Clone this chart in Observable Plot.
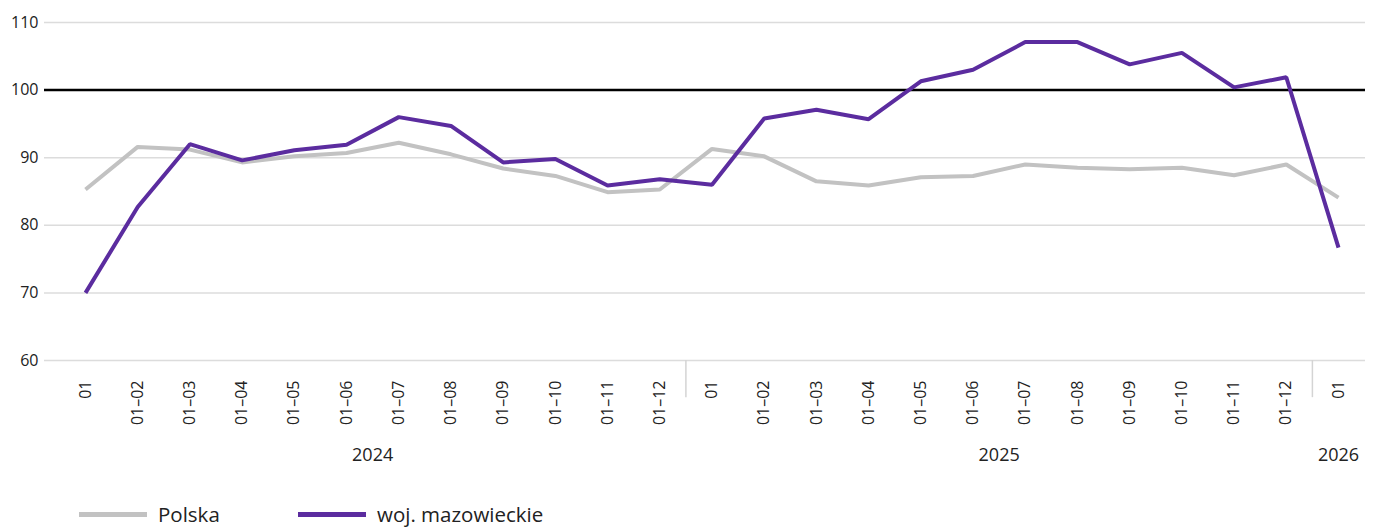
<!DOCTYPE html>
<html>
<head>
<meta charset="utf-8">
<script src="https://cdn.jsdelivr.net/npm/d3@7"></script>
<script src="https://cdn.jsdelivr.net/npm/@observablehq/plot@0.6"></script>
<style>
  body { margin: 0; background: #fff; font-family: "Open Sans", sans-serif; }
  #legend { position: relative; height: 38px; width: 1378px; }
  .item { position: absolute; top: 5px; display: flex; align-items: center; height: 38px; font-size: 20.5px; color: #222; }
  .sw { display: inline-block; width: 68px; height: 5px; margin-right: 11px; }
</style>
</head>
<body>
<div id="chart"></div>
<div id="legend"></div>
<script>
const monthLabels = ["01","01–02","01–03","01–04","01–05","01–06","01–07","01–08","01–09","01–10","01–11","01–12",
                     "01","01–02","01–03","01–04","01–05","01–06","01–07","01–08","01–09","01–10","01–11","01–12",
                     "01"];
const yearOf = [2024,2024,2024,2024,2024,2024,2024,2024,2024,2024,2024,2024,
                2025,2025,2025,2025,2025,2025,2025,2025,2025,2025,2025,2025,
                2026];
const polska = [85.3,91.6,91.2,89.3,90.2,90.7,92.2,90.5,88.4,87.3,84.9,85.3,
                91.3,90.2,86.5,85.9,87.1,87.3,89.0,88.5,88.3,88.5,87.4,89.0,84.1];
const mazowieckie = [70.0,82.7,92.0,89.6,91.1,91.9,96.0,94.7,89.3,89.8,85.9,86.8,
                     86.0,95.8,97.1,95.7,101.3,103.0,107.1,107.1,103.8,105.5,100.4,101.9,76.7];
const seriesNames = ["Polska","woj. mazowieckie"];
const seriesColors = ["#c2c2c2","#5b2c9f"];
const yTicks = [60,70,80,90,100,110];

const idx = d3.range(monthLabels.length);
const years = Array.from(new Set(yearOf));
const yearPos = years.map(y => d3.mean(idx.filter(i => yearOf[i] === y)));
const separators = idx.slice(1).filter(i => yearOf[i] !== yearOf[i-1]).map(i => i - 0.5);

const rows = [
  ...idx.map(i => ({i, v: polska[i], s: seriesNames[0]})),
  ...idx.map(i => ({i, v: mazowieckie[i], s: seriesNames[1]}))
];

const font = "'Open Sans', sans-serif";
const plot = Plot.plot({
  width: 1378,
  height: 490,
  marginTop: 22,
  marginBottom: 130,
  marginLeft: 44,
  marginRight: 13,
  style: {fontFamily: font, color: "#222", background: "#fff"},
  x: {type: "linear", domain: [0, idx.length - 1], insetLeft: 41, insetRight: 27, axis: null},
  y: {domain: [60, 110], axis: null},
  color: {domain: seriesNames, range: seriesColors},
  marks: [
    Plot.ruleY(yTicks.filter(t => t !== 100), {stroke: "#dcdcdc", strokeWidth: 1.5}),
    Plot.ruleY([100], {stroke: "#000", strokeWidth: 2.5}),
    Plot.ruleX(separators, {y1: 60, y2: 54.5, stroke: "#d4d4d4", strokeWidth: 1.5, clip: false}),
    Plot.axisY({ticks: yTicks, tickSize: 0, tickPadding: 6, fontSize: 16, label: null}),
    Plot.text(idx, {x: d => d, text: i => monthLabels[i], frameAnchor: "bottom", rotate: -90,
                    textAnchor: "end", lineAnchor: "middle", dy: 20, fontSize: 16, fill: "#222"}),
    Plot.text(years, {x: (d, k) => yearPos[k], text: d => String(d), frameAnchor: "bottom",
                      dy: 100, fontSize: 18, fill: "#222"}),
    Plot.line(rows, {x: "i", y: "v", z: "s", stroke: "s", strokeWidth: 4, strokeLinejoin: "miter", strokeLinecap: "butt"})
  ]
});
document.getElementById("chart").appendChild(plot);

const legend = document.getElementById("legend");
const lefts = [79, 298];
seriesNames.forEach((n, k) => {
  const it = document.createElement("div");
  it.className = "item";
  it.style.left = lefts[k] + "px";
  it.innerHTML = `<span class="sw" style="background:${seriesColors[k]}"></span><span>${n}</span>`;
  legend.appendChild(it);
});
</script>
</body>
</html>
